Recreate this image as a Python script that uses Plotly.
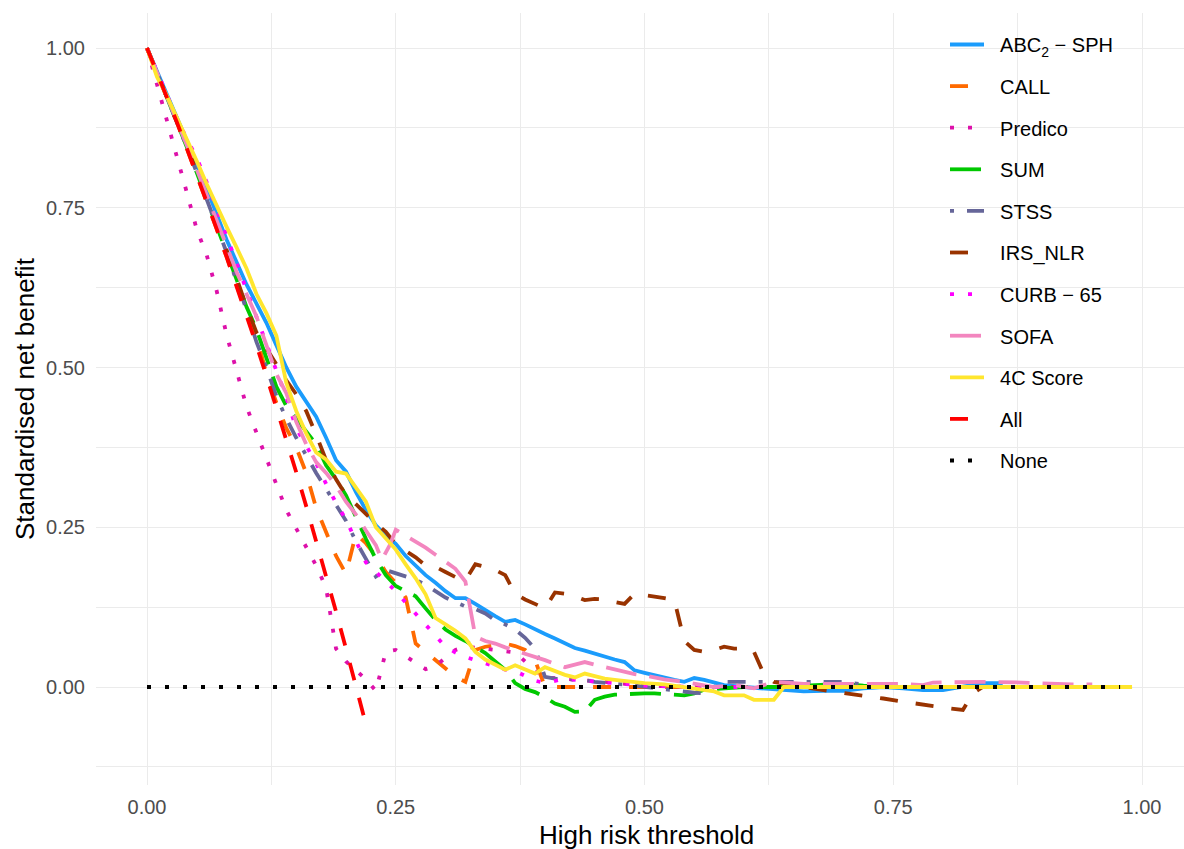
import plotly.graph_objects as go

# ---------------- data ----------------
series_names = ["ABC<sub>2</sub> \u2212 SPH", "CALL", "Predico", "SUM", "STSS", "IRS_NLR",
                "CURB \u2212 65", "SOFA", "4C Score", "All", "None"]

abc_x = [0.00, 0.02, 0.04, 0.06, 0.08, 0.10,
         0.12, 0.13, 0.14, 0.15, 0.16, 0.17, 0.18, 0.19, 0.20, 0.21, 0.22, 0.23, 0.24, 0.25,
         0.26, 0.27, 0.28, 0.29, 0.30, 0.31, 0.32, 0.33, 0.34, 0.35, 0.36, 0.37, 0.38, 0.39,
         0.40, 0.41, 0.42, 0.43, 0.44, 0.45, 0.46, 0.47, 0.48, 0.49, 0.50, 0.51, 0.52, 0.53,
         0.54, 0.55, 0.56, 0.57, 0.58,
         0.60, 0.62, 0.64, 0.66, 0.68, 0.70, 0.72, 0.74, 0.76, 0.78, 0.80, 0.82, 0.84, 0.86]
abc_y = [1.0, 0.928, 0.855, 0.78, 0.70, 0.63,
         0.57, 0.535, 0.50, 0.47, 0.447, 0.423, 0.39, 0.355, 0.337, 0.305, 0.277, 0.253, 0.237, 0.224,
         0.205, 0.19, 0.175, 0.163, 0.15, 0.139, 0.139, 0.13, 0.12, 0.111, 0.102, 0.105, 0.098, 0.09,
         0.083, 0.076, 0.069, 0.061, 0.057, 0.052, 0.048, 0.043, 0.039, 0.026, 0.022, 0.018, 0.015, 0.011,
         0.008, 0.014, 0.011, 0.007, 0.003,
         0.0, -0.002, -0.005, -0.007, -0.006, -0.006, -0.002, 0.0, -0.002, -0.005, -0.005, 0.0, 0.006, 0.006]

call_x = [0.00, 0.01, 0.02, 0.03, 0.04, 0.05, 0.06, 0.07, 0.08, 0.09,
          0.10, 0.11, 0.12, 0.13, 0.14, 0.15, 0.16, 0.17, 0.18, 0.19,
          0.20, 0.21, 0.22, 0.23, 0.24, 0.25, 0.26, 0.27, 0.28, 0.29,
          0.30, 0.31, 0.32, 0.33, 0.34, 0.35, 0.36, 0.37, 0.38, 0.39,
          0.40, 0.45, 0.50, 0.55]
call_y = [1.0, 0.962, 0.923, 0.884, 0.843, 0.802, 0.76, 0.717, 0.673, 0.628,
          0.585, 0.55, 0.49, 0.445, 0.405, 0.375, 0.335, 0.28, 0.243, 0.205,
          0.177, 0.24, 0.225, 0.205, 0.18, 0.163, 0.14, 0.068, 0.055, 0.042,
          0.03, 0.016, 0.008, 0.058, 0.063, 0.066, 0.068, 0.064, 0.058, 0.042,
          0.0, 0.0, 0.0, 0.0]

pred_x = [0.00, 0.01, 0.02, 0.03, 0.04, 0.05, 0.06, 0.07, 0.08, 0.09,
          0.10, 0.11, 0.12, 0.13, 0.14, 0.15, 0.16, 0.17, 0.18, 0.19,
          0.20, 0.21, 0.22, 0.23, 0.24, 0.25, 0.26, 0.27, 0.28, 0.29,
          0.30, 0.31, 0.32, 0.33, 0.34, 0.35, 0.36, 0.37, 0.38, 0.39,
          0.40, 0.42, 0.44, 0.46, 0.48, 0.50, 0.55, 0.60]
pred_y = [1.0, 0.942, 0.887, 0.83, 0.774, 0.716, 0.676, 0.62, 0.551, 0.496,
          0.439, 0.398, 0.357, 0.318, 0.277, 0.248, 0.218, 0.19, 0.155, 0.06,
          0.04, 0.026, 0.012, -0.006, 0.055, 0.058, 0.048, 0.038, 0.028, 0.033,
          0.045, 0.058, 0.063, 0.062, 0.06, 0.058, 0.056, 0.054, 0.04, 0.025,
          0.015, 0.013, 0.011, 0.008, 0.005, 0.002, 0.0, 0.0]

sum_x = [0.00, 0.01, 0.02, 0.03, 0.04, 0.05, 0.06, 0.07, 0.08, 0.09,
         0.10, 0.11, 0.12, 0.13, 0.14, 0.15, 0.16, 0.17, 0.18, 0.19,
         0.20, 0.21, 0.22, 0.23, 0.24, 0.25, 0.26, 0.27, 0.28, 0.29,
         0.30, 0.31, 0.32, 0.33, 0.34, 0.35, 0.36, 0.37, 0.38, 0.39,
         0.40, 0.41, 0.42, 0.43, 0.44, 0.45, 0.46, 0.47, 0.48, 0.49,
         0.50, 0.51, 0.52, 0.53, 0.54, 0.55, 0.56, 0.57, 0.58, 0.59,
         0.60, 0.62, 0.64, 0.66, 0.68, 0.70, 0.72, 0.74]
sum_y = [1.0, 0.962, 0.924, 0.885, 0.845, 0.805, 0.764, 0.722, 0.68, 0.638,
         0.595, 0.56, 0.515, 0.47, 0.44, 0.42, 0.40, 0.38, 0.347, 0.325,
         0.30, 0.265, 0.232, 0.20, 0.175, 0.158, 0.15, 0.142, 0.123, 0.105,
         0.09, 0.08, 0.072, 0.063, 0.053, 0.04, 0.027, 0.006, -0.003, -0.008,
         -0.016, -0.026, -0.031, -0.039, -0.038, -0.02, -0.015, -0.012, -0.011, -0.01,
         -0.01, -0.01, -0.011, -0.012, -0.013, -0.01, -0.004, -0.003, -0.002, 0.0,
         0.0, 0.0, 0.0, 0.002, 0.004, 0.005, 0.002, 0.0]

stss_x = [0.00, 0.01, 0.02, 0.03, 0.04, 0.05, 0.06, 0.07, 0.08, 0.09,
          0.10, 0.11, 0.12, 0.13, 0.14, 0.15, 0.16, 0.17, 0.18, 0.19,
          0.20, 0.21, 0.22, 0.23, 0.24, 0.25, 0.26, 0.27, 0.28, 0.29,
          0.30, 0.31, 0.32, 0.33, 0.34, 0.35, 0.36, 0.37, 0.38, 0.39,
          0.40, 0.41, 0.42, 0.43, 0.44, 0.45, 0.46, 0.47, 0.48, 0.49,
          0.50, 0.51, 0.52, 0.53, 0.54, 0.55, 0.56, 0.57, 0.58, 0.59,
          0.60, 0.62, 0.64, 0.66, 0.68, 0.70, 0.72, 0.74]
stss_y = [1.0, 0.962, 0.923, 0.885, 0.845, 0.805, 0.764, 0.722, 0.68, 0.635,
          0.59, 0.54, 0.50, 0.455, 0.42, 0.39, 0.362, 0.335, 0.31, 0.285,
          0.26, 0.228, 0.20, 0.173, 0.183, 0.178, 0.173, 0.168, 0.16, 0.15,
          0.14, 0.133, 0.126, 0.122, 0.115, 0.104, 0.098, 0.09, 0.077, 0.06,
          0.016, 0.013, 0.012, 0.011, 0.011, 0.008, 0.006, 0.005, 0.004, 0.002,
          0.0, -0.002, -0.004, -0.006, -0.008, -0.009, -0.01, 0.0, 0.008, 0.008,
          0.008, 0.008, 0.008, 0.008, 0.008, 0.008, 0.004, 0.0]

irs_x = [0.00, 0.01, 0.02, 0.03, 0.04, 0.05, 0.06, 0.07, 0.08, 0.09,
         0.10, 0.11, 0.12, 0.13, 0.14, 0.15, 0.16, 0.17, 0.18, 0.19,
         0.20, 0.21, 0.22, 0.23, 0.24, 0.25, 0.26, 0.27, 0.28, 0.29,
         0.30, 0.31, 0.32, 0.33, 0.34, 0.35, 0.36, 0.37, 0.38, 0.39,
         0.40, 0.41, 0.42, 0.43, 0.44, 0.45, 0.46, 0.47, 0.48, 0.49,
         0.50, 0.51, 0.52, 0.53, 0.54, 0.55, 0.56, 0.57, 0.58, 0.59,
         0.60, 0.61, 0.62, 0.63, 0.64, 0.65, 0.66,
         0.68, 0.70, 0.72, 0.74, 0.76, 0.78, 0.80, 0.82, 0.83, 0.84]
irs_y = [1.0, 0.962, 0.924, 0.886, 0.847, 0.806, 0.766, 0.725, 0.684, 0.64,
         0.595, 0.555, 0.53, 0.505, 0.48, 0.458, 0.432, 0.395, 0.355, 0.325,
         0.30, 0.286, 0.27, 0.256, 0.243, 0.223, 0.213, 0.203, 0.19, 0.188,
         0.18, 0.172, 0.167, 0.192, 0.188, 0.183, 0.175, 0.146, 0.137, 0.13,
         0.123, 0.148, 0.146, 0.142, 0.136, 0.138, 0.137, 0.133, 0.13, 0.146,
         0.144, 0.141, 0.139, 0.136, 0.072, 0.058, 0.055, 0.058, 0.063, 0.06,
         0.06, 0.055, 0.02, 0.008, 0.005, 0.002, 0.0,
         -0.005, -0.009, -0.013, -0.018, -0.023, -0.028, -0.032, -0.036, -0.01, 0.0]

curb_x = [0.00, 0.01, 0.02, 0.03, 0.04, 0.05, 0.06, 0.07, 0.08, 0.09,
          0.10, 0.11, 0.12, 0.13, 0.14, 0.15, 0.16, 0.17, 0.18, 0.19,
          0.20, 0.21, 0.22, 0.23, 0.24, 0.25, 0.26, 0.27, 0.28, 0.29,
          0.30, 0.31, 0.32, 0.33, 0.34, 0.35, 0.36, 0.37, 0.38, 0.39,
          0.40, 0.42, 0.44, 0.46, 0.48, 0.50, 0.55, 0.60]
curb_y = [1.0, 0.963, 0.926, 0.89, 0.858, 0.828, 0.79, 0.748, 0.706, 0.663,
          0.62, 0.577, 0.535, 0.497, 0.453, 0.405, 0.378, 0.35, 0.318, 0.288,
          0.262, 0.23, 0.195, 0.18, 0.165, 0.15, 0.132, 0.115, 0.098, 0.08,
          0.063, 0.054, 0.047, 0.042, 0.037, 0.031, 0.027, 0.025, 0.017, 0.01,
          0.006, 0.013, 0.01, 0.007, 0.004, 0.002, 0.0, 0.0]

sofa_x = [0.00, 0.01, 0.02, 0.03, 0.04, 0.05, 0.06, 0.07, 0.08, 0.09,
          0.10, 0.11, 0.12, 0.13, 0.14, 0.15, 0.16, 0.17, 0.18, 0.19,
          0.20, 0.21, 0.22, 0.23, 0.236, 0.244, 0.25, 0.26, 0.27, 0.28,
          0.29, 0.30, 0.31, 0.32, 0.326, 0.33, 0.34, 0.35, 0.36, 0.37,
          0.38, 0.39, 0.40, 0.41, 0.42, 0.43, 0.44, 0.45, 0.46, 0.47,
          0.48, 0.49, 0.50, 0.52, 0.54, 0.56, 0.57, 0.59, 0.61, 0.63,
          0.66, 0.70, 0.76, 0.78, 0.79, 0.84, 0.88, 0.93, 0.95]
sofa_y = [1.0, 0.962, 0.925, 0.887, 0.85, 0.81, 0.77, 0.73, 0.69, 0.65,
          0.615, 0.58, 0.535, 0.49, 0.46, 0.415, 0.38, 0.352, 0.335, 0.315,
          0.29, 0.27, 0.245, 0.222, 0.199, 0.222, 0.246, 0.237, 0.228, 0.218,
          0.207, 0.196, 0.185, 0.165, 0.115, 0.079, 0.072, 0.068, 0.062, 0.057,
          0.053, 0.048, 0.042, 0.036, 0.031, 0.035, 0.039, 0.035, 0.031, 0.027,
          0.024, 0.02, 0.018, 0.012, 0.008, 0.002, 0.0, 0.003, -0.002, 0.008,
          0.005, 0.005, 0.005, 0.003, 0.007, 0.008, 0.007, 0.004, 0.004]

fc_x = [0.00, 0.01, 0.02, 0.03, 0.04, 0.05, 0.06, 0.07, 0.08, 0.09,
        0.10, 0.11, 0.12, 0.13, 0.14, 0.15, 0.16, 0.17, 0.18, 0.19,
        0.20, 0.21, 0.22, 0.23, 0.24, 0.25, 0.26, 0.27, 0.28, 0.29,
        0.30, 0.31, 0.32, 0.33, 0.34, 0.35, 0.36, 0.37, 0.38, 0.39,
        0.40, 0.41, 0.42, 0.43, 0.44, 0.45, 0.46, 0.47, 0.48,
        0.50, 0.52, 0.54, 0.56, 0.57, 0.58, 0.60, 0.61, 0.63, 0.64, 0.99]
fc_y = [1.0, 0.955, 0.925, 0.892, 0.858, 0.823, 0.787, 0.752, 0.72, 0.688,
        0.655, 0.615, 0.585, 0.55, 0.476, 0.432, 0.397, 0.367, 0.356, 0.337,
        0.334, 0.312, 0.29, 0.25, 0.232, 0.215, 0.192, 0.17, 0.145, 0.108,
        0.098, 0.088, 0.076, 0.055, 0.043, 0.035, 0.027, 0.034, 0.027, 0.021,
        0.031, 0.025, 0.019, 0.015, 0.021, 0.017, 0.013, 0.011, 0.009,
        0.006, 0.004, 0.0, -0.004, -0.007, -0.013, -0.013, -0.02, -0.02, 0.0, 0.0]

all_x = [0.00, 0.01, 0.02, 0.03, 0.04, 0.05, 0.06, 0.07, 0.08, 0.09,
         0.10, 0.11, 0.12, 0.13, 0.14, 0.15, 0.16, 0.17, 0.18, 0.19,
         0.20, 0.21, 0.222]
all_y = [1.0, 0.962, 0.923, 0.884, 0.843, 0.802, 0.760, 0.717, 0.673, 0.628,
         0.582, 0.535, 0.487, 0.438, 0.388, 0.336, 0.283, 0.229, 0.174, 0.118,
         0.060, 0.0, -0.07]

none_x = [0.00, 0.978]
none_y = [0.0, 0.0]

x_ticks = [0, 0.25, 0.5, 0.75, 1.0]
x_tick_labels = ["0.00", "0.25", "0.50", "0.75", "1.00"]
y_ticks = [0, 0.25, 0.5, 0.75, 1.0]
y_tick_labels = ["0.00", "0.25", "0.50", "0.75", "1.00"]

# ---------------- styles ----------------
colors = ["#1b9cfc", "#ff6a00", "#dd11aa", "#00c800", "#666699", "#993300",
          "#ff00ff", "#f386bf", "#ffe62e", "#ff0000", "#000000"]
DOT = "4px,14px"
DASH = "18px,18px"
DOTDASH = "4px,13px,18px,13px"
LONGDASH = "31px,13px"
dashes = ["solid", DASH, DOT, LONGDASH, DOTDASH, DASH, DOT, LONGDASH, "solid", DASH, DOT]

xs = [abc_x, call_x, pred_x, sum_x, stss_x, irs_x, curb_x, sofa_x, fc_x, all_x, none_x]
ys = [abc_y, call_y, pred_y, sum_y, stss_y, irs_y, curb_y, sofa_y, fc_y, all_y, none_y]

FONT = "Liberation Sans, Arial, sans-serif"
LW = 3.8
PAD = "\u00a0\u00a0"  # small gap between legend key and label

fig = go.Figure()
for i, (nm, xv, yv) in enumerate(zip(series_names, xs, ys)):
    fig.add_trace(go.Scatter(
        x=xv, y=yv, mode="lines", name=PAD + nm, legendgroup=f"g{i}",
        line=dict(color=colors[i], width=LW, dash=dashes[i]),
        hoverinfo="skip"))

W, H = 1184, 849
ML, MR, MT, MB = 96, 0, 13, 64
pw = W - ML - MR
ph = H - MT - MB
# panel: 0 at x=147px, 1 at 1142px ; y: 1 at 48px, 0 at 687px
x0 = -(147 - ML) / 995.0
x1 = x0 + pw / 995.0
y1 = 1 + (48 - MT) / 639.0
y0 = y1 - ph / 639.0

def px_x(p):
    return (p - ML) / pw

def px_y(p):
    return (H - MB - p) / ph

fig.update_layout(
    width=W, height=H,
    margin=dict(l=ML, r=MR, t=MT, b=MB, pad=0),
    paper_bgcolor="white", plot_bgcolor="white",
    font=dict(family=FONT, size=20, color="black"),
    showlegend=True,
    legend=dict(x=px_x(945), xanchor="left", y=px_y(25), yanchor="top",
                bgcolor="rgba(255,255,255,0)", borderwidth=0, tracegroupgap=12.6,
                traceorder="grouped", itemwidth=34,
                font=dict(family=FONT, size=20, color="black")),
    shapes=[dict(type="rect", xref="paper", yref="paper",
                 x0=px_x(933), x1=px_x(1127), y0=px_y(490), y1=1.0,
                 fillcolor="white", line=dict(width=0), layer="between")],
    xaxis=dict(range=[x0, x1], tickvals=x_ticks, ticktext=x_tick_labels,
               showgrid=True, gridcolor="#ebebeb", gridwidth=1.1,
               zeroline=False, showline=False, ticks="",
               ticklabelstandoff=8,
               tickfont=dict(family=FONT, size=20, color="#4d4d4d"),
               minor=dict(tickvals=[0.125, 0.375, 0.625, 0.875], showgrid=True,
                          gridcolor="#ebebeb", gridwidth=0.6),
               automargin=False),
    yaxis=dict(range=[y0, y1], tickvals=y_ticks, ticktext=y_tick_labels,
               showgrid=True, gridcolor="#ebebeb", gridwidth=1.1,
               zeroline=False, showline=False, ticks="",
               ticklabelstandoff=10,
               tickfont=dict(family=FONT, size=20, color="#4d4d4d"),
               minor=dict(tickvals=[-0.125, 0.125, 0.375, 0.625, 0.875], showgrid=True,
                          gridcolor="#ebebeb", gridwidth=0.6),
               automargin=False),
    annotations=[
        dict(text="High risk threshold", xref="paper", yref="paper",
             x=px_x(646), y=0, yshift=-50, xanchor="center", yanchor="middle",
             showarrow=False, font=dict(family=FONT, size=26, color="black")),
        dict(text="Standardised net benefit", xref="paper", yref="paper",
             x=0, xshift=25 - ML, y=0.5, xanchor="center", yanchor="middle",
             textangle=-90, showarrow=False,
             font=dict(family=FONT, size=26, color="black")),
    ],
)

fig.write_html("out.html", config={"displayModeBar": False},
               post_script="document.body.style.margin='0';document.body.style.overflow='hidden';")
